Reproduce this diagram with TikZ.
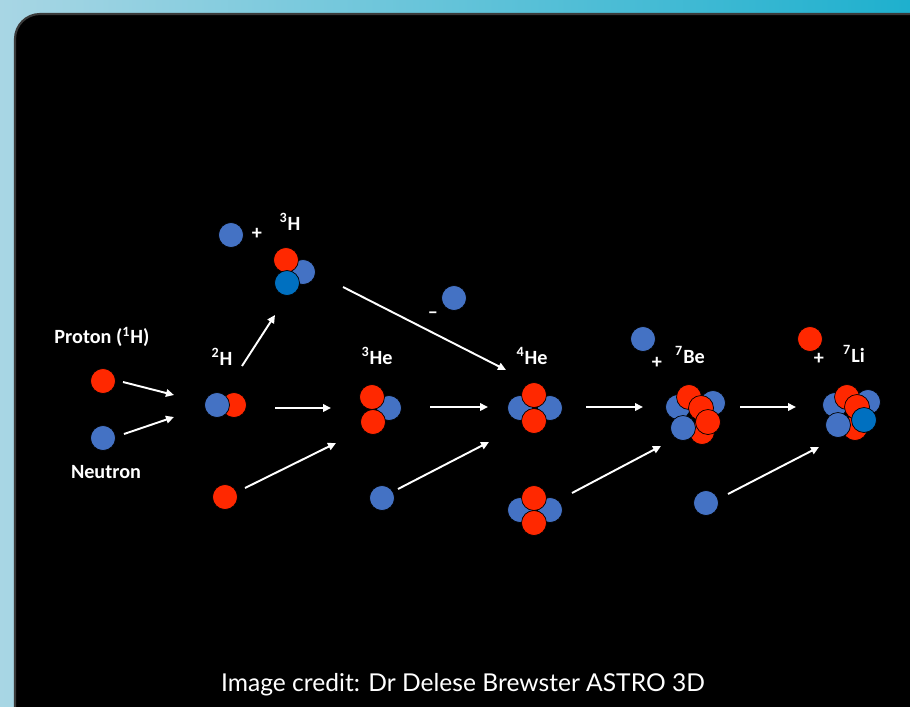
\documentclass[tikz,border=0pt]{standalone}
\usepackage{fontspec}
\setmainfont{Carlito}
\newfontfamily\creditfont{Lato}
\usetikzlibrary{arrows.meta}

\definecolor{protred}{RGB}{255,40,0}
\definecolor{neutblue}{RGB}{68,114,196}
\definecolor{neutdark}{RGB}{0,112,192}
\definecolor{sealeft}{RGB}{168,214,228}
\definecolor{searight}{RGB}{30,176,206}
\definecolor{rimgray}{RGB}{58,58,58}

\tikzset{
    nucleon/.style={circle, draw=black, line width=0.4pt, minimum size=0.5cm, inner sep=0pt},
    prot/.style={nucleon, fill=protred},
    neut/.style={nucleon, fill=neutblue},
    neutdk/.style={nucleon, fill=neutdark},
    lbl/.style={text=white, font=\bfseries\fontsize{11.5}{14}\selectfont, inner sep=0pt},
    flow/.style={draw=white, line width=1.1pt, -{Triangle[length=1.6mm,width=1.5mm]}}
}

\begin{document}
\begin{tikzpicture}[x=0.02cm, y=-0.02cm]

    % 1. Backdrop and black panel
    \useasboundingbox (0,0) rectangle (910,707);
    \shade[left color=sealeft, right color=searight] (0,0) rectangle (910,707);
    \draw[fill=black, draw=rimgray, line width=1.2pt, rounded corners=0.5cm]
        (15,14) rectangle (950,760);

    % 2. Proton and neutron
    \node[lbl] (lproton) at (102,337) {Proton (\textsuperscript{1}H)};
    \node[prot] (p1) at (103,381) {};
    \node[neut] (n1) at (103,438) {};
    \node[lbl] (lneutron) at (106,472) {Neutron};

    % 3. Deuterium
    \node[lbl] (ld2) at (222,357) {\textsuperscript{2}H};
    \node[prot] (d2p) at (234,405) {};
    \node[neut] (d2n) at (217,405) {};

    % 4. Tritium, with the neutron it gives off
    \node[neut] (tfree) at (231,235) {};
    \node[lbl] (tplus) at (257,234) {+};
    \node[lbl] (lt3) at (290,222) {\textsuperscript{3}H};
    \node[neut] (t3a) at (303,272) {};
    \node[prot] (t3p) at (286,260) {};
    \node[neutdk] (t3b) at (287,283) {};

    % 5. Neutron taken away on the way to helium-4
    \node[neut] (hfree) at (454,298) {};
    \node[lbl] (hminus) at (433,315) {--};

    % 6. Helium-3
    \node[lbl] (lhe3) at (377,356) {\textsuperscript{3}He};
    \node[neut] (he3n) at (389,408) {};
    \node[prot] (he3a) at (372,397) {};
    \node[prot] (he3b) at (373,422) {};
    \node[prot] (p2) at (225,497) {};

    % 7. Helium-4 (twice)
    \node[lbl] (lhe4) at (532,356) {\textsuperscript{4}He};
    \node[neut] (he4l) at (520,408) {};
    \node[neut] (he4r) at (550,408) {};
    \node[prot] (he4a) at (534,395) {};
    \node[prot] (he4b) at (534,421) {};
    \node[neut] (n2) at (382,498) {};

    \node[neut] (he4Ll) at (520,510) {};
    \node[neut] (he4Lr) at (550,510) {};
    \node[prot] (he4La) at (534,498) {};
    \node[prot] (he4Lb) at (534,523) {};

    % 8. Beryllium-7
    \node[neut] (befree) at (643,339) {};
    \node[lbl] (beplus) at (657,363) {+};
    \node[lbl] (lbe7) at (690,355) {\textsuperscript{7}Be};
    \node[neut] (be1) at (678,407) {};
    \node[neut] (be2) at (713,403) {};
    \node[prot] (be3) at (702,432) {};
    \node[prot] (be4) at (689,397) {};
    \node[prot] (be5) at (701,408) {};
    \node[prot] (be6) at (708,422) {};
    \node[neut] (be7) at (683,428) {};
    \node[neut] (n3) at (706,503) {};

    % 9. Lithium-7
    \node[prot] (lifree) at (810,339) {};
    \node[lbl] (liplus) at (819,359) {+};
    \node[lbl] (lli7) at (854,354) {\textsuperscript{7}Li};
    \node[neut] (li1) at (835,405) {};
    \node[neut] (li2) at (868,402) {};
    \node[prot] (li3) at (855,428) {};
    \node[prot] (li4) at (847,397) {};
    \node[prot] (li5) at (857,407) {};
    \node[neut] (li6) at (838,425) {};
    \node[neutdk] (li7) at (864,420) {};

    % 10. Reaction arrows
    \coordinate (a1s) at (123,382);  \coordinate (a1e) at (174,395);
    \coordinate (a2s) at (124,434);  \coordinate (a2e) at (174,417);
    \coordinate (a3s) at (242,366);  \coordinate (a3e) at (275,315);
    \coordinate (a4s) at (275,408);  \coordinate (a4e) at (331,408);
    \coordinate (a5s) at (245,488);  \coordinate (a5e) at (336,443);
    \coordinate (a6s) at (343,287);  \coordinate (a6e) at (506,370);
    \coordinate (a7s) at (430,407);  \coordinate (a7e) at (488,407);
    \coordinate (a8s) at (398,489);  \coordinate (a8e) at (489,442);
    \coordinate (a9s) at (586,407);  \coordinate (a9e) at (643,407);
    \coordinate (a10s) at (572,493); \coordinate (a10e) at (661,446);
    \coordinate (a11s) at (740,407); \coordinate (a11e) at (796,407);
    \coordinate (a12s) at (728,494); \coordinate (a12e) at (819,447);

    \foreach \i in {1,...,12}
        \draw[flow] (a\i s) -- (a\i e);

    % 11. Credit line
    \node[text=white, font=\creditfont\fontsize{14}{17}\selectfont] (credit) at (463,685)
        {Image credit: Dr Delese Brewster ASTRO 3D};

\end{tikzpicture}
\end{document}
